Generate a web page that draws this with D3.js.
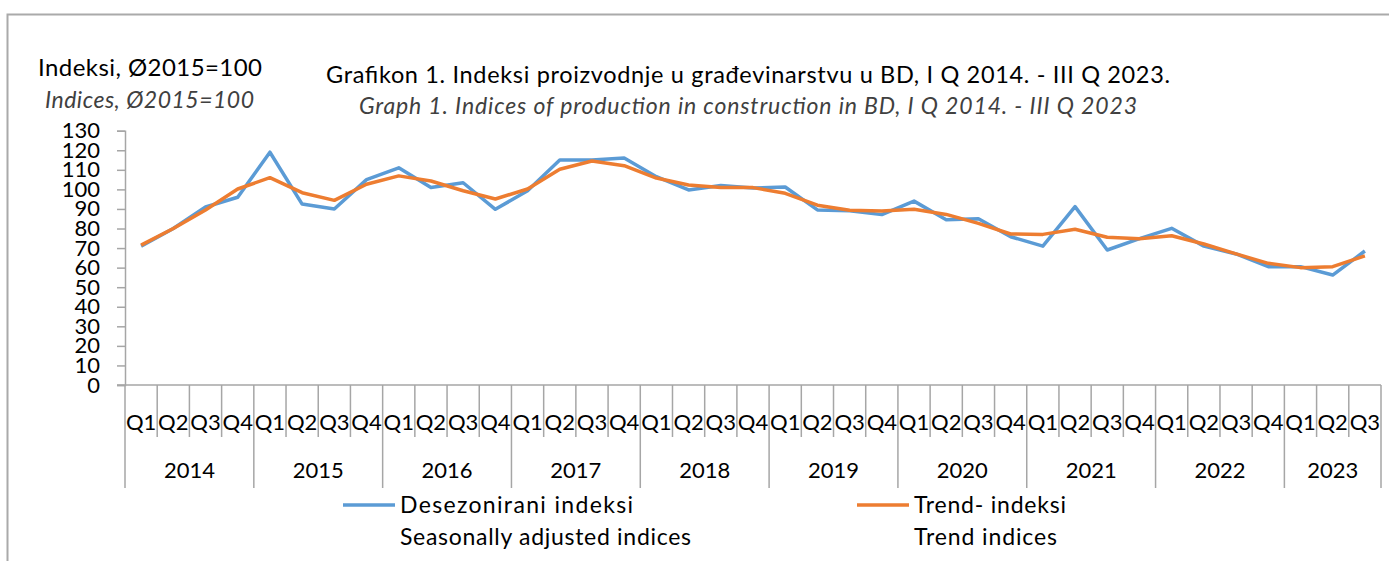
<!DOCTYPE html>
<html lang="bs">
<head>
<meta charset="UTF-8">
<title>Grafikon 1</title>
<style>
  body { margin: 0; background: #fff; }
  svg { display: block; font-family: Lato, "Open Sans", sans-serif; }
</style>
</head>
<body>
<script src="https://cdn.jsdelivr.net/npm/d3@7"></script>
<script>
const svg_w = 1389;
const svg_h = 561;

const years = ['2014', '2015', '2016', '2017', '2018', '2019', '2020', '2021', '2022', '2023'];
const quarters = ['Q1', 'Q2', 'Q3', 'Q4'];

// desezonirani indeksi (seasonally adjusted), 2014 Q1 .. 2023 Q3
const seasonal = [
    71, 80, 91, 96,
    119, 92.5, 90, 105,
    111, 101, 103.4, 89.8,
    99.3, 115, 115, 116,
    106.5, 99.7, 102, 100.7,
    101.2, 89.5, 89.1, 87.1,
    94, 84.5, 85, 75.8,
    71, 91.2, 69, 74.8,
    80.1, 71, 67, 60.5,
    60.5, 56.2, 68.5
];

// trend indeksi
const trend = [
    71.5, 80, 89.5, 100.2,
    106, 98.3, 94.4, 102.6,
    106.9, 104.3, 99.3, 95.1,
    100.2, 110.3, 114.5, 112.1,
    105.8, 102.2, 101, 100.9,
    98, 91.9, 89.3, 89,
    89.8, 87.2, 82.6, 77.2,
    77, 79.6, 75.5, 74.8,
    76.3, 72.1, 67, 62.2,
    60, 60.5, 66
];

const y_ticks = d3.range(0, 131, 10);

// category keys: "2014-Q1" ...
const cats = seasonal.map((d, i) => years[Math.floor(i / 4)] + '-' + quarters[i % 4]);

const plot = { left: 125, right: 1381, top: 130.7, bottom: 385 };

const svg = d3.select('body')
    .append('svg')
    .attr('width', svg_w)
    .attr('height', svg_h);

// outer frame (only left and top visible)
svg.append('path')
    .attr('d', `M7.5,${svg_h} V14.5 H${svg_w}`)
    .attr('fill', 'none')
    .attr('stroke', '#aaaaaa')
    .attr('stroke-width', 2);

const x = d3.scaleBand()
    .domain(cats)
    .range([plot.left, plot.right]);

const y = d3.scaleLinear()
    .domain([0, 130])
    .range([plot.bottom, plot.top]);

// y axis
const yAxis = svg.append('g')
    .attr('transform', `translate(${plot.left},0)`)
    .call(d3.axisLeft(y).tickValues(y_ticks).tickSize(8).tickPadding(17));
yAxis.select('.domain').attr('stroke', '#a6a6a6').attr('stroke-width', 1.5);
yAxis.selectAll('.tick line').attr('stroke', '#a6a6a6').attr('stroke-width', 1.5);
yAxis.selectAll('.tick text')
    .attr('font-size', '22px')
    .attr('fill', '#000')
    .attr('font-family', 'Lato, sans-serif');

// x axis line
svg.append('line')
    .attr('x1', plot.left - 8).attr('x2', plot.right)
    .attr('y1', plot.bottom).attr('y2', plot.bottom)
    .attr('stroke', '#a6a6a6')
    .attr('stroke-width', 1.5);

// quarter separators and labels
const bw = x.bandwidth();
const qSep = svg.append('g');
cats.forEach((c, i) => {
    const isYear = i % 4 === 0;
    qSep.append('line')
        .attr('x1', x(c)).attr('x2', x(c))
        .attr('y1', plot.bottom).attr('y2', isYear ? 488 : 437)
        .attr('stroke', '#a6a6a6')
        .attr('stroke-width', 1.5);
});
qSep.append('line')
    .attr('x1', plot.right).attr('x2', plot.right)
    .attr('y1', plot.bottom).attr('y2', 488)
    .attr('stroke', '#a6a6a6')
    .attr('stroke-width', 1.5);

svg.append('g')
    .selectAll('text')
    .data(cats)
    .enter()
    .append('text')
    .text(d => d.split('-')[1])
    .attr('x', d => x(d) + bw / 2)
    .attr('y', 422)
    .attr('dy', '0.35em')
    .attr('text-anchor', 'middle')
    .attr('font-size', '22px')
    .attr('fill', '#000');

// year labels centered on their quarters
svg.append('g')
    .selectAll('text')
    .data(years)
    .enter()
    .append('text')
    .text(d => d)
    .attr('x', d => {
        const qs = cats.filter(c => c.startsWith(d));
        return (x(qs[0]) + x(qs[qs.length - 1]) + bw) / 2;
    })
    .attr('y', 470)
    .attr('dy', '0.35em')
    .attr('text-anchor', 'middle')
    .attr('font-size', '22px')
    .attr('fill', '#000');

// lines
const line = d3.line()
    .x((d, i) => x(cats[i]) + bw / 2)
    .y(d => y(d));

svg.append('path')
    .datum(seasonal)
    .attr('d', line)
    .attr('fill', 'none')
    .attr('stroke', '#5b9bd5')
    .attr('stroke-width', 3.5)
    .attr('stroke-linejoin', 'round');

svg.append('path')
    .datum(trend)
    .attr('d', line)
    .attr('fill', 'none')
    .attr('stroke', '#ed7d31')
    .attr('stroke-width', 3.5)
    .attr('stroke-linejoin', 'round');

// titles
svg.append('text')
    .text('Indeksi, Ø2015=100')
    .attr('x', 38).attr('y', 76)
    .attr('font-size', '24px')
    .attr('textLength', 224)
    .attr('lengthAdjust', 'spacing')
    .attr('fill', '#000');

svg.append('text')
    .text('Indices, Ø2015=100')
    .attr('x', 45).attr('y', 108)
    .attr('font-size', '23px')
    .attr('font-style', 'italic')
    .attr('textLength', 209)
    .attr('lengthAdjust', 'spacing')
    .attr('fill', '#404040');

svg.append('text')
    .text('Grafikon 1. Indeksi proizvodnje u građevinarstvu u BD, I Q 2014. - III Q 2023.')
    .attr('x', 326).attr('y', 83)
    .attr('font-size', '23.5px')
    .attr('textLength', 844)
    .attr('lengthAdjust', 'spacing')
    .attr('fill', '#000');

svg.append('text')
    .text('Graph 1. Indices of production in construction in BD, I Q 2014. - III Q 2023')
    .attr('x', 359).attr('y', 114)
    .attr('font-size', '23px')
    .attr('font-style', 'italic')
    .attr('textLength', 778)
    .attr('lengthAdjust', 'spacing')
    .attr('fill', '#404040');

// legend
const legend = [
    { name: 'Desezonirani indeksi', sub: 'Seasonally adjusted indices', color: '#5b9bd5', x: 343, w1: 233, w2: 291 },
    { name: 'Trend- indeksi', sub: 'Trend indices', color: '#ed7d31', x: 857, w1: 152, w2: 143 }
];
const lg = svg.append('g')
    .selectAll('g')
    .data(legend)
    .enter()
    .append('g')
    .attr('transform', d => `translate(${d.x},0)`);
lg.append('line')
    .attr('x1', 0).attr('x2', 52)
    .attr('y1', 505).attr('y2', 505)
    .attr('stroke', d => d.color)
    .attr('stroke-width', 3.5);
lg.append('text')
    .text(d => d.name)
    .attr('x', 57).attr('y', 505)
    .attr('dy', '0.35em')
    .attr('font-size', '23px')
    .attr('textLength', d => d.w1)
    .attr('lengthAdjust', 'spacing')
    .attr('fill', '#000');
lg.append('text')
    .text(d => d.sub)
    .attr('x', 57).attr('y', 537)
    .attr('dy', '0.35em')
    .attr('font-size', '23px')
    .attr('textLength', d => d.w2)
    .attr('lengthAdjust', 'spacing')
    .attr('fill', '#000');
</script>
</body>
</html>
